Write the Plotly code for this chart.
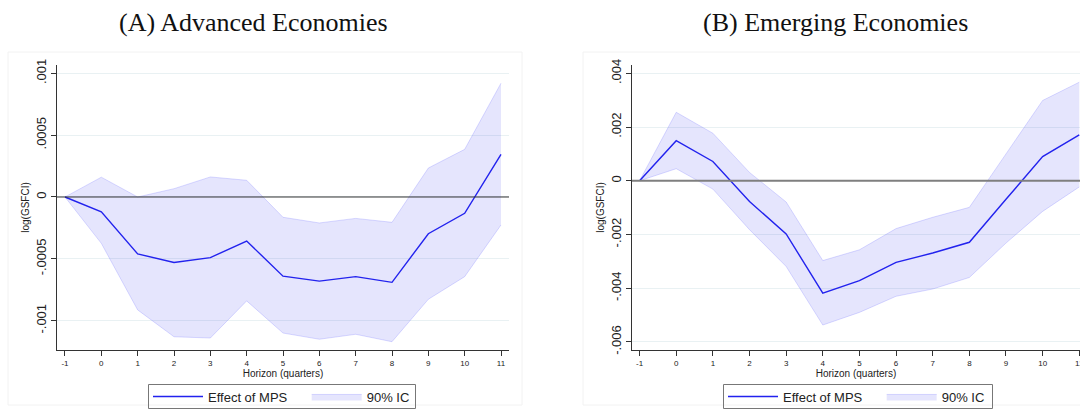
import plotly.graph_objects as go

# Horizon (quarters) and impulse responses of log(GSFCI) to a monetary policy shock
horizon = list(range(-1, 12))

adv_effect = [0, -0.00012, -0.00046, -0.00053, -0.00049, -0.000356, -0.00064,
              -0.00068, -0.000644, -0.00069, -0.000297, -0.000132, 0.000345]
adv_upper = [0, 0.00016, 0.0, 0.000067, 0.000162, 0.000135, -0.000164,
             -0.00021, -0.000173, -0.000205, 0.000234, 0.000385, 0.00092]
adv_lower = [0, -0.000375, -0.000913, -0.00113, -0.00114, -0.00084, -0.0011,
             -0.00115, -0.00111, -0.00117, -0.000827, -0.000644, -0.000226]

emg_effect = [0, 0.00149, 0.00072, -0.00077, -0.00198, -0.00418, -0.00372,
              -0.00304, -0.00269, -0.00229, -0.00069, 0.0009, 0.00171]
emg_upper = [0, 0.00255, 0.00177, 0.00031, -0.00079, -0.00297, -0.00257,
             -0.00178, -0.00136, -0.00099, 0.001, 0.00299, 0.00367]
emg_lower = [0, 0.00045, -0.00031, -0.00182, -0.00319, -0.00537, -0.0049,
             -0.0043, -0.00403, -0.0036, -0.00232, -0.00114, -0.00023]

adv_yticks = [0.001, 0.0005, 0, -0.0005, -0.001]
adv_ylabels = [".001", ".0005", "0", "-.0005", "-.001"]
emg_yticks = [0.004, 0.002, 0, -0.002, -0.004, -0.006]
emg_ylabels = [".004", ".002", "0", "-.002", "-.004", "-.006"]

titles = ["(A) Advanced Economies", "(B) Emerging Economies"]
effect_name = "Effect of MPS"
band_name = "90% IC"

W, H = 1080, 409
LINE = "#2222ee"
FILL = "rgba(0,0,235,0.1)"
EDGE = "rgba(90,90,255,0.22)"
SANS = "Liberation Sans, Arial, sans-serif"
NBSP = "\u00a0"


def px_x(p):
    return p / W


def px_y(p):
    return (H - p) / H


fig = go.Figure()

panels = [
    ("x", "y", "legend", adv_effect, adv_upper, adv_lower),
    ("x2", "y2", "legend2", emg_effect, emg_upper, emg_lower),
]
for xa, ya, lg, eff, up, lo in panels:
    fig.add_trace(go.Scatter(x=horizon, y=up, xaxis=xa, yaxis=ya, mode="lines",
                             line=dict(color=EDGE, width=1), showlegend=False,
                             hoverinfo="skip"))
    fig.add_trace(go.Scatter(x=horizon, y=lo, xaxis=xa, yaxis=ya, mode="lines",
                             line=dict(color=EDGE, width=1), fill="tonexty",
                             fillcolor=FILL, name=band_name, legend=lg))
    fig.add_trace(go.Scatter(x=horizon, y=eff, xaxis=xa, yaxis=ya, mode="lines",
                             line=dict(color=LINE, width=1.4),
                             name=effect_name + NBSP * 4, legend=lg))

ydom = [px_y(350), px_y(65)]
xaxis_common = dict(
    tickmode="array", tickvals=horizon, ticktext=[str(h) for h in horizon],
    showgrid=False, zeroline=False, showline=True, linecolor="#333333",
    linewidth=1, ticks="outside", ticklen=5, tickcolor="#333333",
    ticklabeloverflow="allow",
    tickfont=dict(family=SANS, size=8, color="#222222"),
    title=dict(text="Horizon (quarters)", font=dict(family=SANS, size=10,
               color="#222222"), standoff=0),
)
yaxis_common = dict(
    tickmode="array", showgrid=True, gridcolor="#e9f1f3", gridwidth=1,
    zeroline=False, showline=True, linecolor="#333333", linewidth=1,
    ticks="outside", ticklen=5, tickcolor="#333333", tickangle=-90,
    tickfont=dict(family=SANS, size=13, color="#222222"),
    title=dict(text="log(GSFCI)", font=dict(family=SANS, size=10,
               color="#222222"), standoff=2),
    domain=ydom,
)
legend_common = dict(orientation="h", xanchor="left", yanchor="middle",
                     y=px_y(396.5), bgcolor="rgba(0,0,0,0)", borderwidth=0,
                     font=dict(family=SANS, size=13, color="#222222"),
                     itemwidth=50, traceorder="reversed", tracegroupgap=0)

fig.update_layout(
    width=W, height=H, margin=dict(l=0, r=0, t=0, b=0, autoexpand=False),
    paper_bgcolor="white", plot_bgcolor="white", showlegend=True,
    xaxis=dict(xaxis_common, domain=[px_x(57), px_x(509)], range=[-1.22, 11.22],
               anchor="y"),
    yaxis=dict(yaxis_common, tickvals=adv_yticks, ticktext=adv_ylabels,
               range=[-0.001237, 0.001067], anchor="x"),
    xaxis2=dict(xaxis_common, domain=[px_x(632), 1.0], range=[-1.207, 11.02],
                anchor="y2"),
    yaxis2=dict(yaxis_common, tickvals=emg_yticks, ticktext=emg_ylabels,
                range=[-0.0063, 0.00431], anchor="x2"),
    legend=dict(legend_common, x=px_x(148)),
    legend2=dict(legend_common, x=px_x(723)),
)

# Legend frames
for x0, x1 in [(148.5, 415.5), (723.5, 992.5)]:
    fig.add_shape(type="rect", xref="paper", yref="paper", x0=px_x(x0),
                  x1=px_x(x1), y0=px_y(408.5), y1=px_y(384.5),
                  line=dict(color="#777777", width=1))

# Zero reference lines
fig.add_shape(type="line", xref="x domain", yref="y", x0=0, x1=1, y0=0, y1=0,
              line=dict(color="#333333", width=1))
fig.add_shape(type="line", xref="x2 domain", yref="y2", x0=0, x1=1, y0=0, y1=0,
              line=dict(color="#7f7f7f", width=2))

# Faint outlines of each graph region
fig.add_shape(type="rect", xref="paper", yref="paper", x0=px_x(8), x1=px_x(522),
              y0=px_y(405), y1=px_y(52), line=dict(color="#f2f2f2", width=1),
              layer="below")
fig.add_shape(type="rect", xref="paper", yref="paper", x0=px_x(583), x1=1.2,
              y0=px_y(405), y1=px_y(52), line=dict(color="#f2f2f2", width=1),
              layer="below")

for text, cx in zip(titles, [253, 835]):
    fig.add_annotation(text=text, xref="paper", yref="paper", x=px_x(cx),
                       y=px_y(23), xanchor="center", yanchor="middle",
                       showarrow=False,
                       font=dict(family="Liberation Serif, Times New Roman, serif",
                                 size=26, color="#111111"))

fig.write_html("out.html")
